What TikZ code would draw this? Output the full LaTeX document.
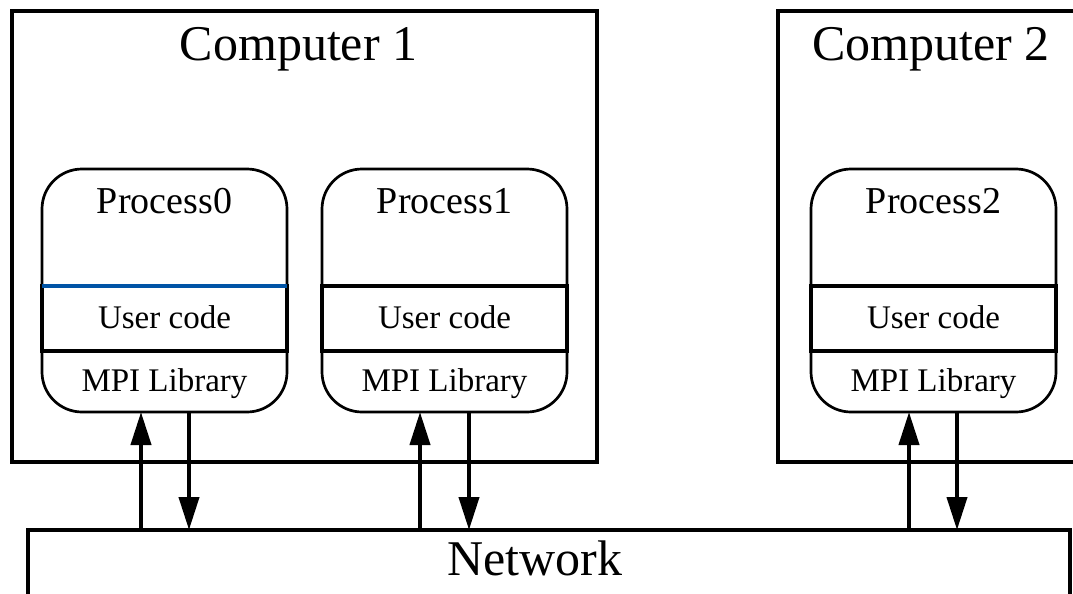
\documentclass[tikz,border=0pt]{standalone}
\usepackage{fontspec}
\setmainfont{Liberation Serif}
\usetikzlibrary{arrows.meta}
\begin{document}
\begin{tikzpicture}[x=1pt,y=-1pt,
  comp/.style={draw,line width=4pt,inner sep=0,outer sep=0,rectangle},
  proc/.style={draw,line width=2.7pt,rounded corners=40pt,minimum width=245pt,minimum height=243pt,inner sep=0,outer sep=0,fill=white},
  ucode/.style={draw,line width=4pt,minimum width=245pt,minimum height=65pt,inner sep=0,outer sep=0},
  big/.style={font=\fontsize{50}{60}\selectfont,anchor=base,inner sep=0},
  mid/.style={font=\fontsize{38}{45}\selectfont,anchor=base,inner sep=0},
  small/.style={font=\fontsize{33}{40}\selectfont,anchor=base,inner sep=0},
  arr/.style={line width=4pt,-{Triangle[length=33pt,width=20pt]}}
]
\useasboundingbox (0,0) rectangle (1073,594);
\clip (0,0) rectangle (1073,594);

% computers and network
\node[comp,minimum width=585pt,minimum height=451pt] (c1) at (304.5,236.5) {};
\node[comp,minimum width=322pt,minimum height=451pt] (c2) at (939,236.5) {};
\node[comp,minimum width=1042pt,minimum height=110pt] (net) at (549,585) {};
\node[big] (c1t) at (298.5,60) {Computer\ 1};
\node[big] (c2t) at (931,60) {Computer\ 2};
\node[big] (nett) at (535,575) {Network};

% processes
\node[proc] (p0) at (164.5,290.5) {};
\node[proc] (p1) at (444.5,290.5) {};
\node[proc] (p2) at (933.5,290.5) {};

\node[ucode] (u0) at (164.5,318.5) {};
\draw[line width=4.2pt,color={rgb,255:red,0;green,84;blue,166}] (u0.north west) -- (u0.north east);
\node[ucode] (u1) at (444.5,318.5) {};
\node[ucode] (u2) at (933.5,318.5) {};

\node[mid] (p0t) at (164.5,213) {Process0};
\node[mid] (p1t) at (444.5,213) {Process1};
\node[mid] (p2t) at (933.5,213) {Process2};
\node[small] (u0t) at (164.5,328) {User code};
\node[small] (u1t) at (444.5,328) {User code};
\node[small] (u2t) at (933.5,328) {User code};
\node[small] (m0t) at (164.5,391) {MPI Library};
\node[small] (m1t) at (444.5,391) {MPI Library};
\node[small] (m2t) at (933.5,391) {MPI Library};

% arrows
\coordinate (x0u) at (141,0);
\coordinate (x0d) at (189,0);
\coordinate (x1u) at (420,0);
\coordinate (x1d) at (469,0);
\coordinate (x2u) at (909,0);
\coordinate (x2d) at (957,0);
\draw[arr] (net.north -| x0u) -- (p0.south -| x0u);
\draw[arr] (p0.south -| x0d) -- (net.north -| x0d);
\draw[arr] (net.north -| x1u) -- (p1.south -| x1u);
\draw[arr] (p1.south -| x1d) -- (net.north -| x1d);
\draw[arr] (net.north -| x2u) -- (p2.south -| x2u);
\draw[arr] (p2.south -| x2d) -- (net.north -| x2d);
\end{tikzpicture}
\end{document}
